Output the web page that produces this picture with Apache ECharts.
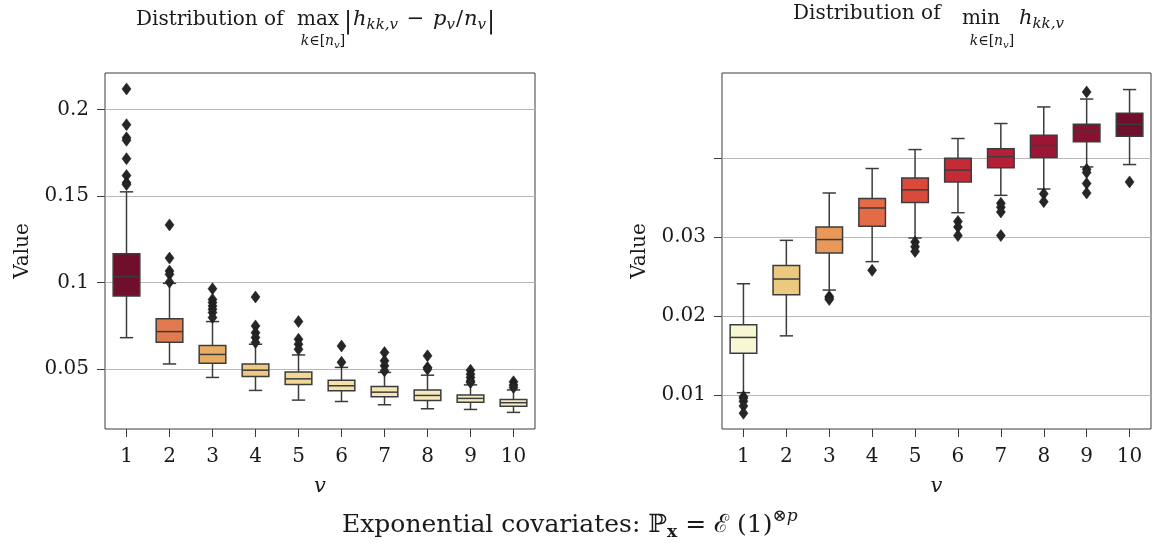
<!DOCTYPE html>
<html>
<head>
<meta charset="utf-8">
<script src="https://cdn.jsdelivr.net/npm/echarts@6/dist/echarts.min.js"></script>
<style>
html,body{margin:0;padding:0;background:#fff;}
#chart{width:1153px;height:543px;}
</style>
</head>
<body>
<div id="chart"></div>
<script>
// ---------- data ----------
const categories = ['1','2','3','4','5','6','7','8','9','10'];

// Left panel: max_k |h_kk,v - p_v/n_v|
const leftLow  = [0.0682,0.0530,0.0452,0.0377,0.0321,0.0313,0.0294,0.0271,0.0267,0.0250];
const leftQ1   = [0.0923,0.0656,0.0534,0.0458,0.0411,0.0375,0.0340,0.0319,0.0309,0.0285];
const leftMed  = [0.1034,0.0717,0.0585,0.0494,0.0444,0.0404,0.0367,0.0348,0.0331,0.0306];
const leftQ3   = [0.1167,0.0792,0.0636,0.0530,0.0484,0.0436,0.0400,0.0379,0.0351,0.0325];
const leftHigh = [0.1525,0.0996,0.0775,0.0644,0.0582,0.0510,0.0481,0.0465,0.0409,0.0380];
const leftOutliers = [
  [0.2120,0.1913,0.1837,0.1823,0.1717,0.1619,0.1577,0.1567],
  [0.1334,0.1142,0.1067,0.1048,0.1003],
  [0.0965,0.0903,0.0885,0.0865,0.0846,0.0827,0.0798],
  [0.0917,0.0750,0.0711,0.0683,0.0654],
  [0.0775,0.0673,0.0644,0.0615],
  [0.0634,0.0540],
  [0.0596,0.0548,0.0519,0.0490],
  [0.0577,0.0510,0.0500],
  [0.0494,0.0471,0.0452,0.0432,0.0423],
  [0.0427,0.0408,0.0394]
];
const leftTicks = [0.05,0.1,0.15,0.2];

// Right panel: min_k h_kk,v
const rightLow  = [0.0103,0.0175,0.0233,0.0269,0.0299,0.0331,0.0353,0.0361,0.0389,0.0392];
const rightQ1   = [0.0153,0.0227,0.0280,0.0314,0.0344,0.0370,0.0388,0.0401,0.0421,0.0428];
const rightMed  = [0.0173,0.0247,0.0297,0.0337,0.0360,0.0385,0.0402,0.0416,0.0434,0.0443];
const rightQ3   = [0.0189,0.0264,0.0313,0.0349,0.0375,0.0400,0.0412,0.0429,0.0443,0.0457];
const rightHigh = [0.0241,0.0296,0.0356,0.0387,0.0411,0.0425,0.0444,0.0465,0.0475,0.0487];
const rightOutliers = [
  [0.0098,0.0096,0.0092,0.0086,0.0077],
  [],
  [0.0225,0.0223,0.0221],
  [0.0258],
  [0.0294,0.0288,0.0282],
  [0.0320,0.0313,0.0302],
  [0.0343,0.0338,0.0332,0.0302],
  [0.0355,0.0345],
  [0.0484,0.0386,0.0382,0.0368,0.0356],
  [0.0370]
];
const rightTicks = [0.01,0.02,0.03,0.04];
const rightTickLabels = [0.01,0.02,0.03];

// ---------- styles ----------
const leftColors  = ['#700f2c','#e27a4f','#e8ad63','#edc981','#f1d896','#f3e1a9','#f5e6b3','#f6e9bb','#f7ecc2','#f8efc9'];
const rightColors = ['#f8f7d4','#ebc97f','#e8995a','#e46b48','#d94a3d','#c52b36','#b51f37','#9c1534','#86122f','#700f2c'];
const FONT = '"DejaVu Serif"';
const TXT = '#1a1a1a';
const EDGE = '#3c3c3c';

function boxData(lo,q1,md,q3,hi){ return categories.map((c,i)=>[i,lo[i],q1[i],md[i],q3[i],hi[i]]); }
function outlierData(out){ const r=[]; out.forEach((arr,i)=>arr.forEach(v=>r.push([i,v]))); return r; }

function makeRender(colors){
  return function(params, api){
    const i = api.value(0);
    const lo = api.coord([i, api.value(1)]);
    const q1 = api.coord([i, api.value(2)]);
    const md = api.coord([i, api.value(3)]);
    const q3 = api.coord([i, api.value(4)]);
    const hi = api.coord([i, api.value(5)]);
    const band = api.size([1,0])[0];
    const bw = band*0.62, cw = bw*0.5, x = lo[0];
    const ls = {stroke:EDGE, lineWidth:1.5};
    return {type:'group', children:[
      {type:'line', shape:{x1:x,y1:hi[1],x2:x,y2:q3[1]}, style:ls},
      {type:'line', shape:{x1:x,y1:q1[1],x2:x,y2:lo[1]}, style:ls},
      {type:'line', shape:{x1:x-cw/2,y1:hi[1],x2:x+cw/2,y2:hi[1]}, style:ls},
      {type:'line', shape:{x1:x-cw/2,y1:lo[1],x2:x+cw/2,y2:lo[1]}, style:ls},
      {type:'rect', shape:{x:x-bw/2,y:q3[1],width:bw,height:q1[1]-q3[1]}, style:{fill:colors[params.dataIndex],stroke:EDGE,lineWidth:1.5}},
      {type:'line', shape:{x1:x-bw/2,y1:md[1],x2:x+bw/2,y2:md[1]}, style:ls}
    ]};
  };
}

// ---------- text layout helpers ----------
const mctx = document.createElement('canvas').getContext('2d');
function fontStr(s,it,b){ return (it?'italic ':'')+(b?'bold ':'')+s+'px '+FONT; }
function measure(p){ mctx.font = fontStr(p.size||20,p.i,p.b); return mctx.measureText(p.t).width; }
function runWidth(pieces){ return pieces.reduce((a,p)=>a+measure(p)+(p.gap||0),0); }
const graphics = [];
function run(pieces, x0, baseline){
  let x = x0;
  for (const p of pieces){
    const s = p.size||20;
    graphics.push({type:'text', x:x, y:baseline+(p.dy||0)-0.3*s, silent:true,
      style:{text:p.t, font:fontStr(s,p.i,p.b), fill:TXT, textAlign:'left', textVerticalAlign:'middle'}});
    x += measure(p)+(p.gap||0);
  }
  return x;
}
function runCentered(pieces, cx, baseline){ return run(pieces, cx-runWidth(pieces)/2, baseline); }

const subK = [{t:'k',i:1,size:14},{t:'∈[',size:14},{t:'n',i:1,size:14},{t:'v',i:1,size:10,dy:2},{t:']',size:14}];
// left title
run([{t:'Distribution of'}], 136, 26);
runCentered([{t:'max'}], 318, 26);
runCentered(subK, 323, 46);
run([{t:'|',size:24,dy:3,gap:1},{t:'h',i:1,size:21},{t:'kk,v',i:1,size:15,dy:4,gap:2},{t:' − ',size:21,gap:2},{t:'p',i:1,size:21},{t:'v',i:1,size:15,dy:4,gap:1},{t:'/',size:21,gap:1},{t:'n',i:1,size:21},{t:'v',i:1,size:15,dy:4,gap:1},{t:'|',size:24,dy:3}], 344, 26);
// right title
run([{t:'Distribution of'}], 793, 19.5);
runCentered([{t:'min'}], 981, 25);
runCentered(subK, 992, 46);
run([{t:'h',i:1,size:21},{t:'kk,v',i:1,size:15,dy:4}], 1019, 25);
// bottom title
run([{t:'Exponential covariates: ',size:25},{t:'ℙ',size:25},{t:'x',b:1,size:17,dy:5},{t:' = ',size:25},{t:'ℰ',size:25},{t:' (1)',size:25},{t:'⊗',size:17,dy:-11},{t:'p',i:1,size:17,dy:-11}], 342, 533);

// ---------- chart ----------
const chart = echarts.init(document.getElementById('chart'), null, {renderer:'canvas'});
const labelStyle = {fontFamily:FONT, fontSize:20, color:TXT};
function xAxisCfg(gi){
  return {type:'category', gridIndex:gi, data:categories, boundaryGap:true,
    name:'v', nameLocation:'middle', nameGap:47,
    nameTextStyle:{fontFamily:FONT, fontSize:21, fontStyle:'italic', color:TXT},
    axisLine:{show:false}, axisTick:{show:true, alignWithLabel:true, length:8, inside:false, lineStyle:{color:EDGE}},
    axisLabel:Object.assign({margin:18, interval:0}, labelStyle), splitLine:{show:false}};
}
function yAxisCfg(gi,min,max,ticks,labels){
  return {type:'value', gridIndex:gi, min:min, max:max,
    name:'Value', nameLocation:'middle', nameGap:72, nameRotate:90,
    nameTextStyle:{fontFamily:FONT, fontSize:20, color:TXT},
    axisLine:{show:false},
    axisTick:{show:true, length:8, lineStyle:{color:EDGE}, customValues:ticks},
    axisLabel:Object.assign({margin:16, customValues:labels, formatter:v=>String(v)}, labelStyle),
    splitLine:{show:true, lineStyle:{color:'#b8b8b8', width:1}}};
}
chart.setOption({
  animation:false,
  backgroundColor:'#fff',
  grid:[
    {left:105, top:73, width:430, height:356, show:true, borderColor:EDGE, borderWidth:1, backgroundColor:'transparent'},
    {left:722, top:73, width:429, height:356, show:true, borderColor:EDGE, borderWidth:1, backgroundColor:'transparent'}
  ],
  xAxis:[xAxisCfg(0), xAxisCfg(1)],
  yAxis:[yAxisCfg(0,0.0154,0.2212,leftTicks,leftTicks), yAxisCfg(1,0.0057,0.0508,rightTicks,rightTickLabels)],
  series:[
    {type:'custom', xAxisIndex:0, yAxisIndex:0, renderItem:makeRender(leftColors), data:boxData(leftLow,leftQ1,leftMed,leftQ3,leftHigh), encode:{x:0,y:[1,2,3,4,5]}, z:2},
    {type:'scatter', xAxisIndex:0, yAxisIndex:0, symbol:'diamond', symbolSize:[9,12], data:outlierData(leftOutliers), itemStyle:{color:'#262626', borderColor:'#111', borderWidth:0.5, opacity:1}, z:3},
    {type:'custom', xAxisIndex:1, yAxisIndex:1, renderItem:makeRender(rightColors), data:boxData(rightLow,rightQ1,rightMed,rightQ3,rightHigh), encode:{x:0,y:[1,2,3,4,5]}, z:2},
    {type:'scatter', xAxisIndex:1, yAxisIndex:1, symbol:'diamond', symbolSize:[9,12], data:outlierData(rightOutliers), itemStyle:{color:'#262626', borderColor:'#111', borderWidth:0.5, opacity:1}, z:3}
  ],
  graphic:graphics
});
</script>
</body>
</html>
